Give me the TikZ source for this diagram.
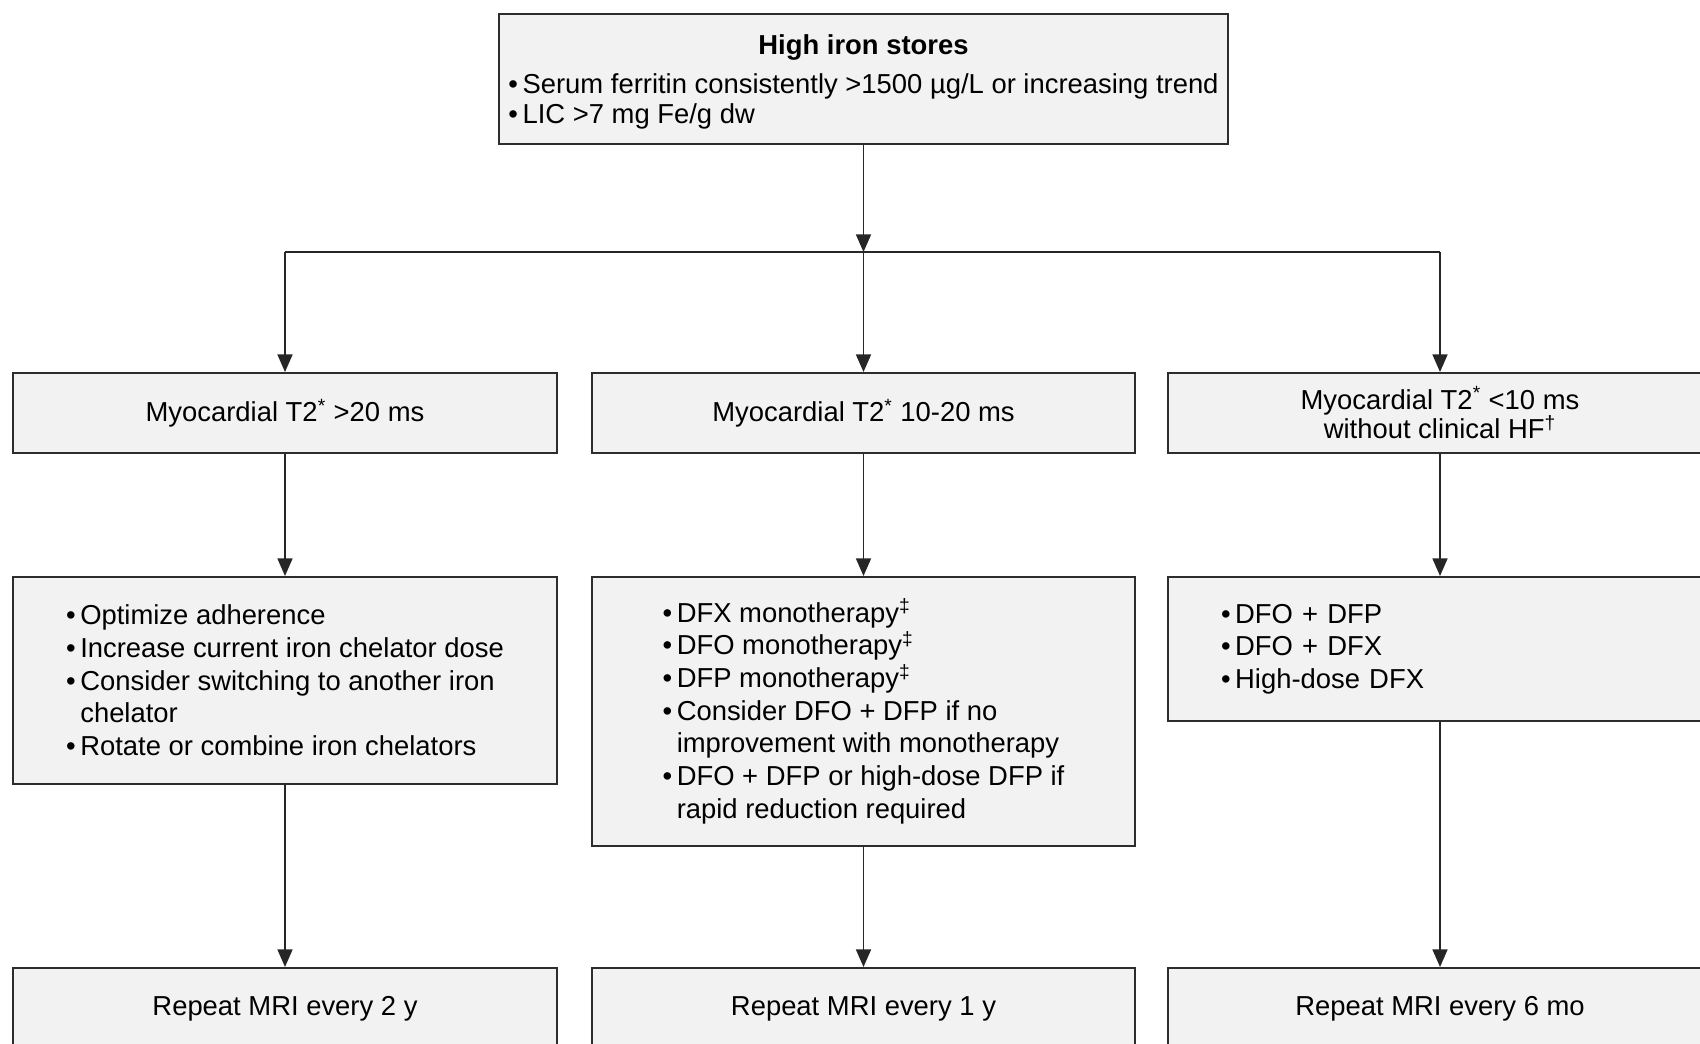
\documentclass[tikz,border=0pt]{standalone}
\usepackage{fontspec}
\setmainfont{Liberation Sans}
\usetikzlibrary{arrows.meta}
\definecolor{boxgray}{RGB}{242,242,242}
\definecolor{edgegray}{RGB}{45,45,45}
\newcommand{\itm}{\textbullet\,}
\newcommand{\itmgap}{\phantom{\textbullet\,}}
\tikzset{
  box/.style={draw=edgegray, line width=1.1pt, fill=boxgray, inner sep=0pt,
              minimum width=10.88cm, font=\fontsize{15.6}{17}\selectfont},
  listbox/.style={box, anchor=north, align=left, font=\fontsize{15.6}{18.6}\selectfont},
  link/.style={draw=black!85, line width=1pt},
  arr/.style={link, -{Triangle[length=10pt,width=8.5pt]}}
}

\begin{document}
\begin{tikzpicture}[x=0.02cm, y=-0.02cm]
  \path[use as bounding box, clip] (0,0) rectangle (1700,1044);

  \node[box, minimum width=14.58cm, minimum height=2.6cm] (stores) at (863.5,79) {%
    \raisebox{-2.4pt}[\height][\depth]{\begin{tabular}{@{}l@{}}
      \multicolumn{1}{@{}c@{}}{\bfseries High iron stores}\\[5pt]
      \itm Serum ferritin consistently >1500 µg/L or increasing trend\\
      \itm LIC >7 mg Fe/g dw
    \end{tabular}}};

  \node[box, minimum height=1.6cm, align=center] (mriHigh) at (285,413)
    {Myocardial T2\textsuperscript{*} >20 ms};
  \node[box, minimum height=1.6cm, align=center] (mriMid) at (863.5,413)
    {Myocardial T2\textsuperscript{*} 10-20 ms};
  \node[box, minimum height=1.6cm, align=center] (mriLow) at (1440,413)
    {Myocardial T2\textsuperscript{*} <10 ms\\without clinical HF\textsuperscript{†}};

  \node[listbox, minimum height=4.14cm] (txHigh) at (285,576) {%
    \itm Optimize adherence\\
    \itm Increase current iron chelator dose\\
    \itm Consider switching to another iron\\
    \itmgap chelator\\
    \itm Rotate or combine iron chelators};
  \node[listbox, minimum height=5.38cm] (txMid) at (863.5,576) {%
    \itm DFX monotherapy\textsuperscript{‡}\\
    \itm DFO monotherapy\textsuperscript{‡}\\
    \itm DFP monotherapy\textsuperscript{‡}\\
    \itm Consider DFO + DFP if no\\
    \itmgap improvement with monotherapy\\
    \itm DFO + DFP or high-dose DFP if\\
    \itmgap rapid reduction required};
  \node[listbox, minimum height=2.88cm, text width=8.76cm] (txLow) at (1440,576) {%
    \itm DFO + DFP\\
    \itm DFO + DFX\\
    \itm High-dose DFX};

  \node[box, anchor=north, minimum height=1.64cm] (repHigh) at (285,967) {Repeat MRI every 2 y};
  \node[box, anchor=north, minimum height=1.64cm] (repMid) at (863.5,967) {Repeat MRI every 1 y};
  \node[box, anchor=north, minimum height=1.64cm] (repLow) at (1440,967) {Repeat MRI every 6 mo};

  \coordinate (split) at (863.5,252);
  \coordinate (splitL) at (285,252);
  \coordinate (splitR) at (1440,252);

  \draw[arr] (stores.south) -- (split);
  \draw[link] (splitL) -- (splitR);
  \draw[arr] (splitL) -- (mriHigh.north);
  \draw[arr] (split) -- (mriMid.north);
  \draw[arr] (splitR) -- (mriLow.north);

  \draw[arr] (mriHigh) -- (txHigh);
  \draw[arr] (mriMid) -- (txMid);
  \draw[arr] (mriLow) -- (txLow);

  \draw[arr] (txHigh) -- (repHigh);
  \draw[arr] (txMid) -- (repMid);
  \draw[arr] (txLow) -- (repLow);
\end{tikzpicture}
\end{document}
